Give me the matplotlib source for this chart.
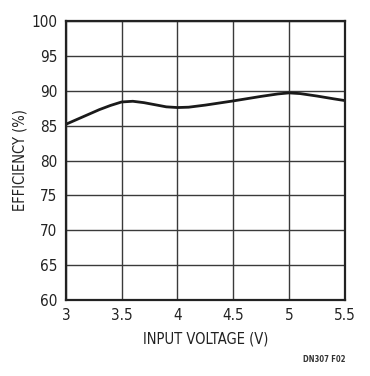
import matplotlib.pyplot as plt

# values
voltage = [3.0, 3.1, 3.2, 3.3, 3.4, 3.5, 3.6, 3.7, 3.8, 3.9, 4.0, 4.1, 4.25,
           4.5, 4.75, 4.9, 5.0, 5.1, 5.25, 5.4, 5.5]
efficiency = [85.2, 85.9, 86.6, 87.3, 87.9, 88.4, 88.5, 88.3, 88.0, 87.7, 87.6, 87.65, 87.95,
              88.55, 89.2, 89.55, 89.7, 89.6, 89.25, 88.85, 88.6]
xticks = [3, 3.5, 4, 4.5, 5, 5.5]
xtick_labels = ['3', '3.5', '4', '4.5', '5', '5.5']
yticks = list(range(60, 101, 5))

plt.rcParams['font.family'] = ['DejaVu Sans']
plt.rcParams['font.stretch'] = 'condensed'

fig = plt.figure(figsize=(3.70, 3.76), dpi=100)
ax = fig.add_axes([0.178, 0.202, 0.754, 0.742])

ax.plot(voltage, efficiency, color='#1a1a1a', linewidth=2.0, solid_capstyle='butt')

ax.set_xlim(3, 5.5)
ax.set_ylim(60, 100)
ax.set_xticks(xticks)
ax.set_xticklabels(xtick_labels)
ax.set_yticks(yticks)
ax.grid(True, color='#3a3a3a', linewidth=1.0)
ax.set_axisbelow(True)
ax.tick_params(length=0, labelsize=11, pad=6, colors='#222222')
for s in ax.spines.values():
    s.set_linewidth(1.6)
    s.set_color('#222222')

ax.set_xlabel('INPUT VOLTAGE (V)', fontsize=10.5, color='#222222', labelpad=6)
ax.set_ylabel('EFFICIENCY (%)', fontsize=10.5, color='#222222', labelpad=3)

fig.text(0.935, 0.037, 'DN307 F02', fontsize=5.5, fontweight='bold', ha='right', color='#333333')

fig.savefig('out.png', dpi=100, facecolor='white')
